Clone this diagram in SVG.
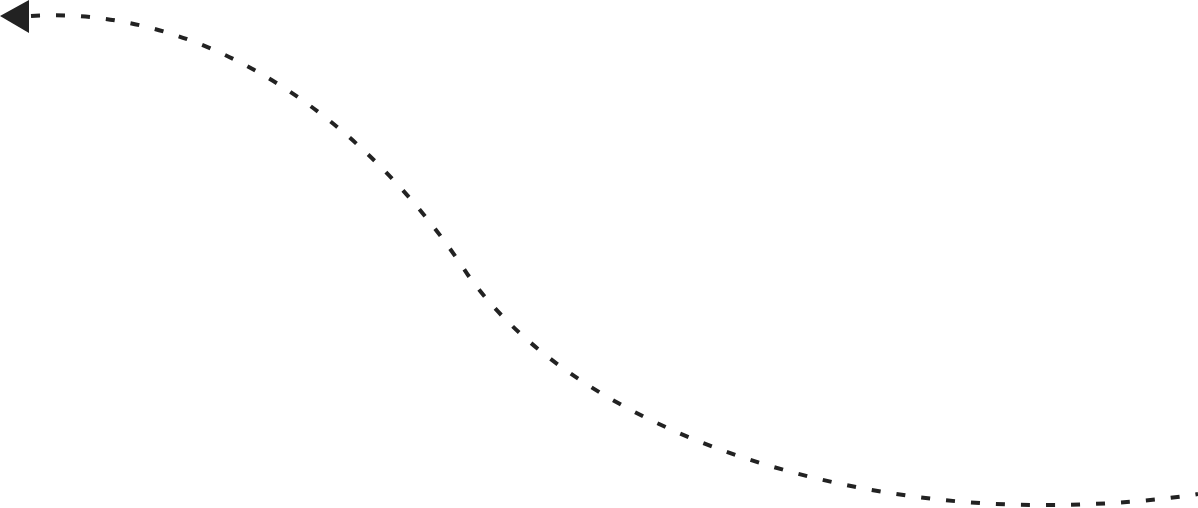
<svg xmlns="http://www.w3.org/2000/svg" width="1198" height="508" viewBox="0 0 1198 508">
<style>
.conn{fill:none;stroke:#222;stroke-width:4;stroke-dasharray:9 16}
.head{fill:#222}
</style>
<rect width="1198" height="508" fill="#fff"/>
<g id="connectors">
<path class="conn" d="M31,16 C210,5 370,125 468,275 C575,425 820,505 1040,505 C1110,505 1160,500 1198,494"/>
<polygon class="head" points="0,16 29,0 29,33"/>
</g>
</svg>
